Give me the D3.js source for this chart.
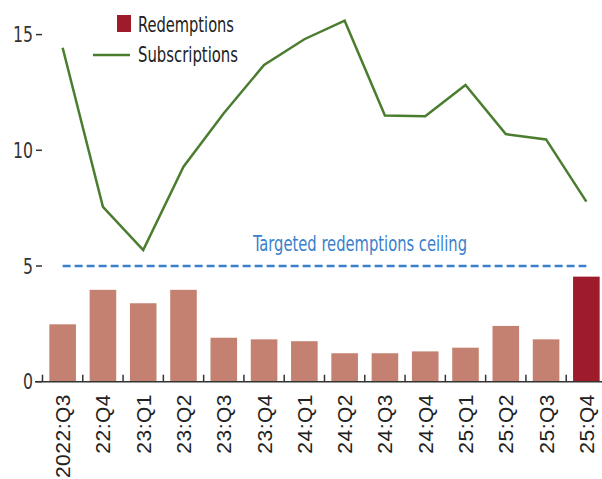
<!DOCTYPE html>
<html>
<head>
<meta charset="utf-8">
<script src="https://cdn.jsdelivr.net/npm/d3@7"></script>
<style>
  body { margin: 0; background: #fff; }
  svg { display: block; }
</style>
</head>
<body>
<script>
// quarters on the x axis
var quarters = ['2022:Q3', '22:Q4', '23:Q1', '23:Q2', '23:Q3', '23:Q4', '24:Q1', '24:Q2', '24:Q3', '24:Q4', '25:Q1', '25:Q2', '25:Q3', '25:Q4'];
// bars
var redemptions = [2.48, 3.97, 3.39, 3.97, 1.9, 1.83, 1.75, 1.23, 1.23, 1.31, 1.47, 2.41, 1.83, 4.54];
// line
var subscriptions = [14.43, 7.56, 5.69, 9.29, 11.6, 13.69, 14.8, 15.6, 11.5, 11.47, 12.82, 10.7, 10.47, 7.78];
var yTicks = [0, 5, 10, 15];
var ceiling = 5;

var w = 602;
var h = 479;
var condensed = '"DejaVu Sans Condensed", "DejaVu Sans", sans-serif';

var svg = d3.select('body').append('svg')
  .attr('width', w)
  .attr('height', h);

var x = d3.scaleBand()
  .domain(quarters)
  .range([42.5, 606.5])
  .paddingInner(0.34)
  .paddingOuter(0.17);

var y = d3.scaleLinear()
  .domain([0, 15])
  .range([381.7, 34.6]);

// bars
svg.selectAll('rect.bar')
  .data(redemptions)
  .enter()
  .append('rect')
    .attr('class', 'bar')
    .attr('x', function(d, i) { return x(quarters[i]); })
    .attr('y', function(d) { return y(d); })
    .attr('width', x.bandwidth())
    .attr('height', function(d) { return y(0) - y(d); })
    .attr('fill', function(d, i) { return i == quarters.length - 1 ? '#9e1b2b' : '#c48070'; });

// x axis line + ticks between bands
svg.append('line')
  .attr('x1', 35).attr('x2', w)
  .attr('y1', y(0)).attr('y2', y(0))
  .attr('stroke', '#333').attr('stroke-width', 1.5);

var step = x.step();
svg.selectAll('line.xtick')
  .data(quarters)
  .enter()
  .append('line')
    .attr('class', 'xtick')
    .attr('x1', function(d) { return x(d) - step * 0.17; })
    .attr('x2', function(d) { return x(d) - step * 0.17; })
    .attr('y1', y(0) - 7).attr('y2', y(0))
    .attr('stroke', '#333').attr('stroke-width', 1.5);

// x labels, rotated
svg.selectAll('text.xlab')
  .data(quarters)
  .enter()
  .append('text')
    .attr('class', 'xlab')
    .attr('transform', function(d) { return 'translate(' + (x(d) + x.bandwidth() / 2 + 7.5) + ',394) rotate(-90)'; })
    .attr('text-anchor', 'end')
    .attr('font-family', '"Liberation Sans", Arial, sans-serif')
    .attr('font-size', 21)
    .attr('letter-spacing', 0.5)
    .attr('fill', '#222')
    .text(function(d) { return d; });

// y ticks
var yg = svg.append('g');
yg.selectAll('text')
  .data(yTicks)
  .enter()
  .append('text')
    .attr('x', 33)
    .attr('y', function(d) { return y(d) + 7.5; })
    .attr('text-anchor', 'end')
    .attr('font-family', condensed)
    .attr('font-size', 21)
    .attr('textLength', function(d) { return String(d).length * 10; })
    .attr('lengthAdjust', 'spacingAndGlyphs')
    .attr('fill', '#333')
    .text(function(d) { return d; });
yg.selectAll('line')
  .data(yTicks)
  .enter()
  .append('line')
    .attr('x1', 36).attr('x2', 42)
    .attr('y1', function(d) { return y(d); })
    .attr('y2', function(d) { return y(d); })
    .attr('stroke', '#333').attr('stroke-width', 1.5);

// ceiling
svg.append('line')
  .attr('x1', x(quarters[0]) + x.bandwidth() / 2)
  .attr('x2', x(quarters[quarters.length - 1]) + x.bandwidth() / 2)
  .attr('y1', y(ceiling)).attr('y2', y(ceiling))
  .attr('stroke', '#3a7fcc').attr('stroke-width', 2.5)
  .attr('stroke-dasharray', '8,4');
svg.append('text')
  .attr('x', 253)
  .attr('y', y(ceiling) - 15)
  .attr('font-family', condensed)
  .attr('font-size', 21)
  .attr('textLength', 214)
  .attr('lengthAdjust', 'spacingAndGlyphs')
  .attr('fill', '#3a7fcc')
  .text('Targeted redemptions ceiling');

// subscriptions line
var line = d3.line()
  .x(function(d, i) { return x(quarters[i]) + x.bandwidth() / 2; })
  .y(function(d) { return y(d); });
svg.append('path')
  .datum(subscriptions)
  .attr('d', line)
  .attr('fill', 'none')
  .attr('stroke', '#4b7d2f')
  .attr('stroke-width', 2.5)
  .attr('stroke-linejoin', 'miter');

// legend
var lg = svg.append('g');
lg.append('rect')
  .attr('x', 117).attr('y', 15).attr('width', 14).attr('height', 17)
  .attr('fill', '#9e1b2b');
lg.append('text')
  .attr('x', 138).attr('y', 32)
  .attr('font-family', condensed)
  .attr('font-size', 22)
  .attr('textLength', 96)
  .attr('lengthAdjust', 'spacingAndGlyphs')
  .attr('fill', '#222')
  .text('Redemptions');
lg.append('line')
  .attr('x1', 93).attr('x2', 130).attr('y1', 55).attr('y2', 55)
  .attr('stroke', '#4b7d2f').attr('stroke-width', 2.5);
lg.append('text')
  .attr('x', 138).attr('y', 62)
  .attr('font-family', condensed)
  .attr('font-size', 22)
  .attr('textLength', 100)
  .attr('lengthAdjust', 'spacingAndGlyphs')
  .attr('fill', '#222')
  .text('Subscriptions');
</script>
</body>
</html>
